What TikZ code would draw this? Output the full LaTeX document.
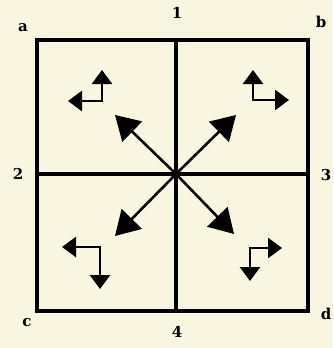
\documentclass[tikz,border=0pt]{standalone}
\usepackage{fontspec}
\setmainfont{DejaVu Serif}
\usepackage{tikz}
\usetikzlibrary{arrows.meta}
\definecolor{paper}{RGB}{248,246,224}
\tikzset{
  lbl/.style={font=\fontsize{15}{15}\selectfont\bfseries},
  big/.style={line width=2.6pt,-{Triangle[length=24pt,width=28pt]}},
  small/.style={line width=2.6pt,line join=miter,
    {Triangle[length=14pt,width=20pt]}-{Triangle[length=14pt,width=20pt]}}
}
\begin{document}
\begin{tikzpicture}[x=1pt,y=-1pt]
\fill[paper] (0,0) rectangle (333,348);
\useasboundingbox (0,0) rectangle (333,348);
% square and the cross
\coordinate (A1) at (37,40);
\coordinate (A3) at (308,311);
\coordinate (T) at (176,40);
\coordinate (B) at (176,311);
\coordinate (L) at (37,174);
\coordinate (R) at (308,174);
\coordinate (O) at (176,174);
\draw[line width=4.2pt] (A1) rectangle (A3);
\draw[line width=3.6pt] (T) -- (B);
\draw[line width=3.6pt] (L) -- (R);
% labels
\node[lbl] (na) at (23,28) {a};
\node[lbl] (nb) at (321,22) {b};
\node[lbl] (nc) at (27,323) {c};
\node[lbl] (nd) at (326,314) {d};
\node[lbl] (n1) at (177,13) {1};
\node[lbl] (n2) at (18,174) {2};
\node[lbl] (n3) at (326,175) {3};
\node[lbl] (n4) at (177,332) {4};
% big arrows
\coordinate (D1) at (115,115);
\coordinate (D2) at (236,115);
\coordinate (D3) at (115,236);
\coordinate (D4) at (234,234);
\draw[big] (O) -- (D1);
\draw[big] (O) -- (D2);
\draw[big] (O) -- (D3);
\draw[big] (O) -- (D4);
% small arrows
\coordinate (U1) at (102,70);
\coordinate (C1) at (102,101);
\coordinate (E1) at (68,101);
\draw[small] (U1) |- (E1);
\coordinate (U2) at (253,70);
\coordinate (E2) at (289,100);
\draw[small] (U2) |- (E2);
\coordinate (W3) at (62,247);
\coordinate (S3) at (100,289);
\draw[small] (W3) -| (S3);
\coordinate (E4) at (282,248);
\coordinate (S4) at (250,281);
\draw[small] (E4) -| (S4);
\end{tikzpicture}
\end{document}
